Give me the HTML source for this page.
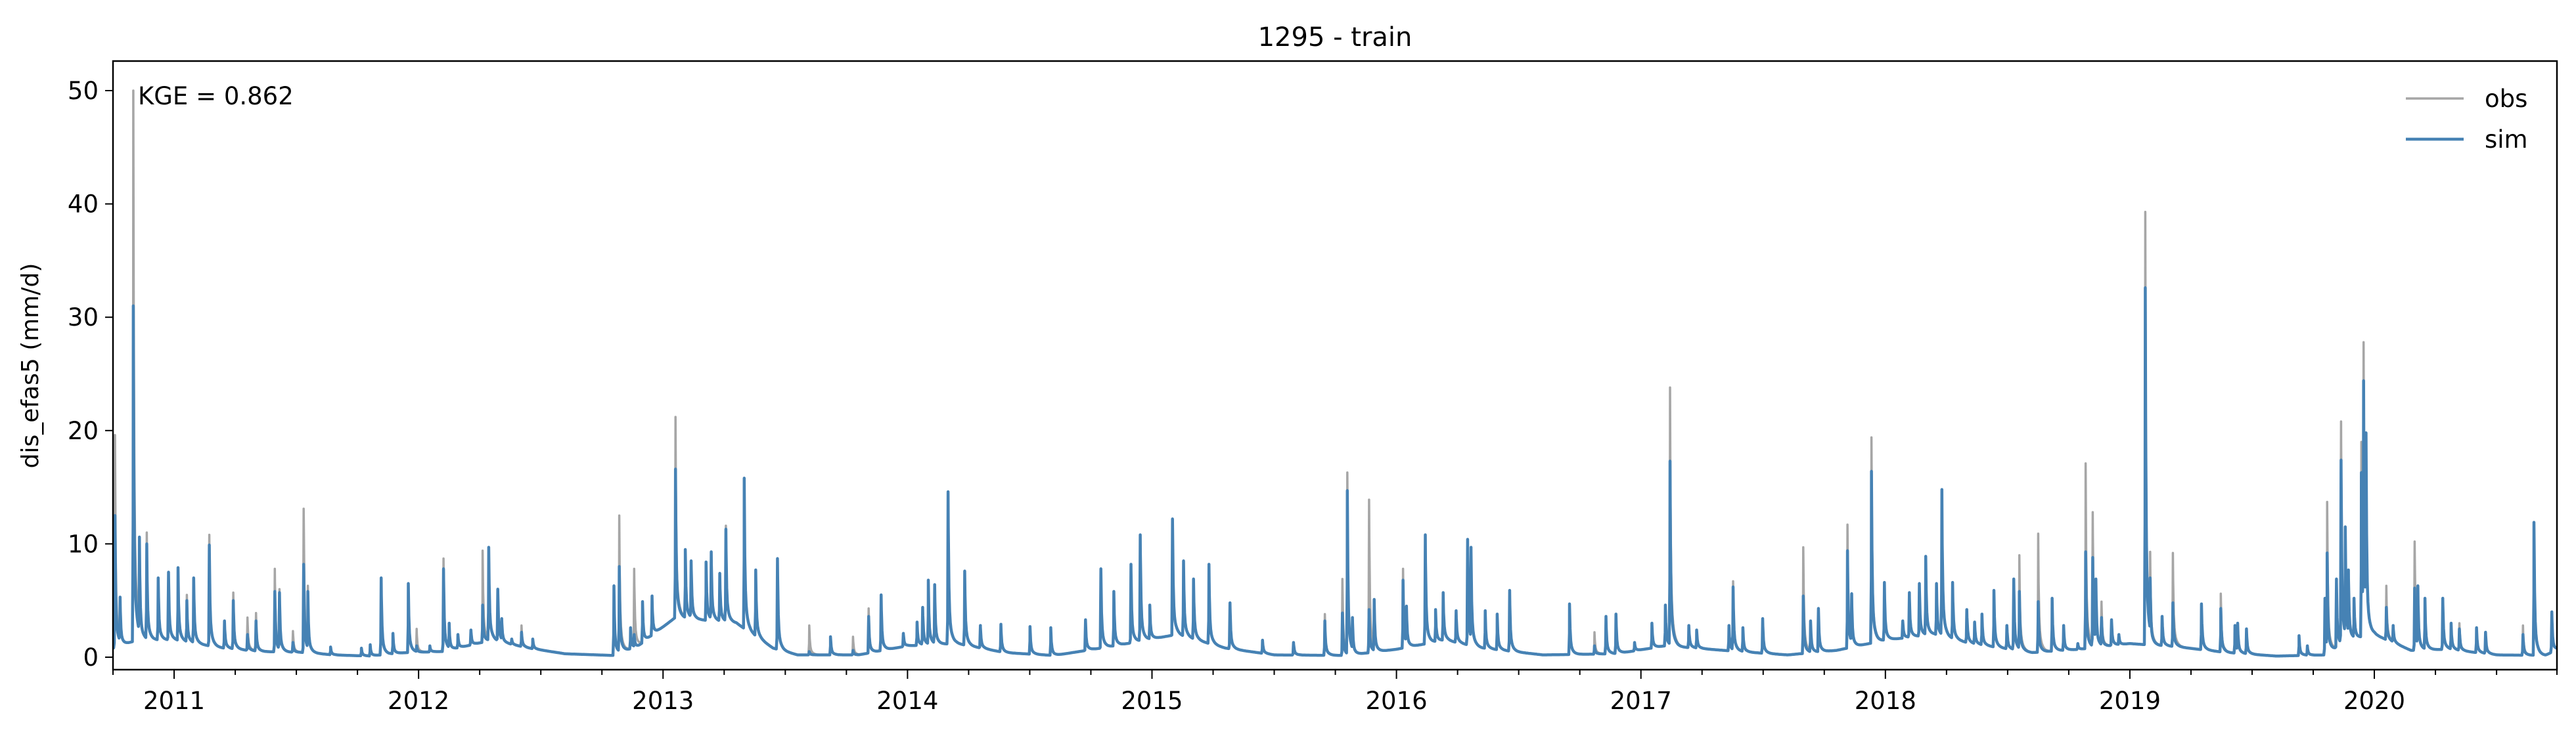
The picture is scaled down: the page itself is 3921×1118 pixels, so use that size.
<!DOCTYPE html>
<html><head><meta charset="utf-8"><title>1295 - train</title>
<style>
html,body{margin:0;padding:0;background:#fff;}
svg{display:block;font-family:"DejaVu Sans","Liberation Sans",sans-serif;}
</style></head>
<body>
<svg id="chart" width="3921" height="1118" viewBox="0 0 3921 1118" xmlns="http://www.w3.org/2000/svg">
<rect x="0" y="0" width="3921" height="1118" fill="#fff"/>
<text x="2032" y="70" font-size="40" text-anchor="middle">1295 - train</text>
<g id="series"></g>
<g id="axes"></g>
<text x="210" y="159" font-size="37">KGE = 0.862</text>
<text transform="translate(58,557) rotate(-90)" font-size="36" text-anchor="middle">dis_efas5 (mm/d)</text>
<g>
<line x1="3662" y1="150" x2="3750" y2="150" stroke="#a6a6a6" stroke-width="3.5"/>
<text x="3782" y="163" font-size="37">obs</text>
<line x1="3662" y1="212" x2="3750" y2="212" stroke="#4682b4" stroke-width="4.5"/>
<text x="3782" y="225" font-size="37">sim</text>
</g>
</svg>
<script>
// ---- data (decimal years, mm/d) ----
const peakYears = [2010.758,2010.779,2010.833,2010.858,2010.888,2010.935,2010.977,2011.016,2011.052,2011.080,2011.144,2011.206,2011.242,2011.300,2011.335,2011.412,2011.431,2011.486,2011.530,2011.547,2011.640,2011.766,2011.802,2011.847,2011.895,2011.958,2011.992,2012.046,2012.102,2012.125,2012.161,2012.214,2012.262,2012.287,2012.324,2012.340,2012.381,2012.421,2012.467,2012.799,2012.821,2012.867,2012.882,2012.916,2012.955,2013.008,2013.051,2013.091,2013.115,2013.176,2013.197,2013.232,2013.257,2013.332,2013.379,2013.468,2013.598,2013.685,2013.777,2013.841,2013.892,2013.983,2014.039,2014.062,2014.085,2014.111,2014.166,2014.234,2014.298,2014.382,2014.501,2014.586,2014.728,2014.791,2014.844,2014.914,2014.952,2014.991,2015.084,2015.129,2015.170,2015.233,2015.319,2015.452,2015.579,2015.707,2015.779,2015.799,2015.820,2015.888,2015.909,2016.027,2016.041,2016.118,2016.160,2016.191,2016.244,2016.291,2016.305,2016.363,2016.412,2016.463,2016.708,2016.810,2016.857,2016.898,2016.974,2017.045,2017.100,2017.119,2017.196,2017.228,2017.360,2017.377,2017.417,2017.498,2017.664,2017.694,2017.726,2017.845,2017.862,2017.943,2017.996,2018.071,2018.098,2018.139,2018.165,2018.209,2018.231,2018.275,2018.333,2018.365,2018.395,2018.444,2018.497,2018.525,2018.548,2018.625,2018.682,2018.729,2018.787,2018.819,2018.848,2018.861,2018.884,2018.925,2018.955,2019.063,2019.083,2019.132,2019.176,2019.293,2019.372,2019.430,2019.441,2019.477,2019.692,2019.726,2019.798,2019.807,2019.845,2019.864,2019.881,2019.894,2019.917,2019.947,2019.956,2019.966,2020.049,2020.077,2020.165,2020.178,2020.207,2020.280,2020.314,2020.348,2020.418,2020.455,2020.608,2020.653,2020.726];
const obsPeaks = [19.6,5.3,50,10.6,11,7,7.5,7.9,5.5,7,10.8,3.2,5.7,3.5,3.9,7.8,6,2.3,13.1,6.3,0.9,0.8,1.1,7,2.1,6.5,2.5,1,8.7,3,2,2.4,9.4,9.7,6,3.4,1.6,2.8,1.6,6.3,12.5,2.6,7.8,4.9,5.4,2.1,21.2,9.5,8.5,8.4,9.3,7.4,11.6,15.8,7.7,8.7,2.8,1.8,1.8,4.3,5.5,2.1,3.1,4.4,6.8,6.4,14.6,7.6,2.8,2.9,2.7,2.6,3.3,7.8,5.8,8.2,10.8,4.6,12.2,8.5,6.9,8.2,4.8,1.5,1.3,3.8,6.9,16.3,3.5,13.9,5.1,7.8,4.5,10.8,4.2,5.7,4.1,10.4,9.7,4.1,3.8,5.9,4.7,2.2,3.6,3.8,1.3,3,4.6,23.8,2.8,2.4,2.8,6.7,2.6,3.4,9.7,3.2,4.3,11.7,5.6,19.4,6.6,3.2,5.7,6.5,8.9,6.5,14.8,6.6,4.2,3.1,3.8,5.9,2.8,6.9,9,10.9,5.2,2.8,1.2,17.1,12.8,6.9,4.9,3.3,2,39.3,9.3,3.6,9.2,4.7,5.6,2.8,3,2.5,1.9,1,5.2,13.7,6.9,20.8,11.5,7.7,5.2,19,27.8,19.8,6.3,2.8,10.2,6.3,5.2,5.2,3,3,2.6,2.2,2.8,11.9,4];
const simPeaks = [12.5,5.3,31,10.6,10,7,7.5,7.9,5,7,9.9,3.2,5,2,3.2,5.8,5.7,1.3,8.2,5.8,0.9,0.8,1.1,7,2.1,6.5,1,1,7.8,3,2,2.4,4.6,9.7,6,3.4,1.6,2.2,1.6,6.3,8,2.6,2,4.9,5.4,2.1,16.6,9.5,8.5,8.4,9.3,7.4,11.3,15.8,7.7,8.7,0.5,1.8,0.6,3.6,5.5,2.1,3.1,4.4,6.8,6.4,14.6,7.6,2.8,2.9,2.7,2.6,3.3,7.8,5.8,8.2,10.8,4.6,12.2,8.5,6.9,8.2,4.8,1.5,1.3,3.2,3.9,14.7,3.5,4.2,5.1,6.8,4.5,10.8,4.2,5.7,4.1,10.4,9.7,4.1,3.8,5.9,4.7,1,3.6,3.8,1.3,3,4.6,17.3,2.8,2.4,2.8,6.2,2.6,3.4,5.4,3.2,4.3,9.4,5.6,16.4,6.6,3.2,5.7,6.5,8.9,6.5,14.8,6.6,4.2,3.1,3.8,5.9,2.8,6.9,5.8,4.9,5.2,2.8,1.2,9.3,8.8,6.9,3.5,3.3,2,32.6,7,3.6,4.8,4.7,4.3,2.8,3,2.5,1.9,1,5.2,9.2,6.9,17.4,11.5,7.7,5.2,16.3,24.4,19.8,4.4,2.8,6.1,6.3,5.2,5.2,3,2.5,2.6,2.2,2,11.9,4];
const baseYears = [2010.75,2010.85,2011.0,2011.2,2011.35,2011.55,2011.65,2011.8,2011.95,2012.1,2012.3,2012.45,2012.6,2012.8,2012.9,2013.05,2013.3,2013.45,2013.55,2013.8,2014.0,2014.2,2014.4,2014.6,2014.85,2015.1,2015.3,2015.5,2015.8,2016.0,2016.2,2016.35,2016.6,2016.9,2017.1,2017.4,2017.6,2017.8,2018.0,2018.2,2018.35,2018.6,2018.8,2019.0,2019.2,2019.4,2019.6,2019.8,2019.9,2020.0,2020.15,2020.3,2020.5,2020.7,2020.75];
const baseValues = [0.8,1.5,1.5,0.8,0.5,0.4,0.2,0.1,0.4,0.5,1.5,0.8,0.3,0.15,1,3.5,3,0.8,0.2,0.2,1,1.2,0.4,0.15,1,2,0.8,0.2,0.15,0.7,1.5,0.8,0.2,0.3,1,0.5,0.2,0.6,1.5,2,1.2,0.4,0.7,1.2,0.9,0.4,0.1,0.2,1.5,2,0.6,0.7,0.2,0.15,0.7];
const yTicks = [0,10,20,30,40,50];
const xTickYears = [2011,2012,2013,2014,2015,2016,2017,2018,2019,2020];

// ---- axes ----
const X0=172, X1=3892, Y0=93, Y1=1020;
const T0=2010.75, T1=2020.747;
const Vzero=1001, pxPerUnit=17.26;
const xScale = t => X0 + (t-T0)/(T1-T0)*(X1-X0);
const yScale = v => Vzero - v*pxPerUnit;
const NS='http://www.w3.org/2000/svg';
function mk(tag, attrs, parent){const e=document.createElementNS(NS,tag);for(const k in attrs)e.setAttribute(k,attrs[k]);parent.appendChild(e);return e;}

function baseAt(t){
  for(let i=0;i<baseYears.length-1;i++){
    if(t>=baseYears[i]&&t<=baseYears[i+1]){const f=(t-baseYears[i])/(baseYears[i+1]-baseYears[i]);return baseValues[i]+f*(baseValues[i+1]-baseValues[i]);}
  }
  return baseValues[baseValues.length-1];
}
function seriesFrom(peaks){
  const day=1/365.25;
  const times=[];
  for(let t=T0;t<=T1+1e-9;t+=day) times.push(t);
  peakYears.forEach(p=>times.push(p));
  times.sort((a,b)=>a-b);
  return times.map(t=>{
    const b=baseAt(t); let v=b;
    for(let i=0;i<peakYears.length;i++){
      const dt=(t-peakYears[i])/day; const P=peaks[i];
      if(P<=b) continue;
      let c=b;
      if(dt>=-1&&dt<0) c=b+(P-b)*(1+dt)*0.5;
      else if(dt>=0&&dt<40) c=b+(P-b)*(0.72*Math.exp(-dt/0.9)+0.28*Math.exp(-dt/4));
      if(c>v) v=c;
    }
    return [t,v];
  });
}
const ser=document.getElementById('series');
const clip=mk('clipPath',{id:'plotclip'},ser);
mk('rect',{x:X0,y:Y0,width:X1-X0,height:Y1-Y0},clip);
function drawLine(peaks,color,w,name){
  const pts=seriesFrom(peaks);
  const d=pts.map((p,i)=>(i?'L':'M')+xScale(p[0]).toFixed(1)+' '+yScale(p[1]).toFixed(1)).join('');
  const p=mk('path',{d:d,fill:'none',stroke:color,'stroke-width':w,'stroke-linejoin':'round','clip-path':'url(#plotclip)'},ser);
  
  
}
drawLine(obsPeaks,'#a6a6a6',3.5,'obs-line');
drawLine(simPeaks,'#4682b4',4.5,'sim-line');

const ax=document.getElementById('axes');
const frame=mk('rect',{x:X0,y:Y0,width:X1-X0,height:Y1-Y0,fill:'none',stroke:'#000','stroke-width':2.5},ax);


yTicks.forEach(v=>{
  const y=yScale(v);
  const tk=mk('line',{x1:X0-12,y1:y,x2:X0,y2:y,stroke:'#000','stroke-width':2},ax);
  
  
  const tl=mk('text',{x:X0-22,y:y+13,'font-size':37,'text-anchor':'end'},ax);
  tl.textContent=v;
  
  
});
for(let y=2010;y<=2020;y++){
  for(let q=0;q<4;q++){
    const t=y+q*0.25; if(t<T0-1e-6||t>T1+0.01) continue;
    const x=Math.min(xScale(t),X1);
    const major=(q===0);
    const tk=mk('line',{x1:x,y1:Y1,x2:x,y2:Y1+(major?14:8),stroke:'#000','stroke-width':2},ax);
    
    
  }
}
xTickYears.forEach(yr=>{
  const tl=mk('text',{x:xScale(yr),y:1080,'font-size':37,'text-anchor':'middle'},ax);
  tl.textContent=yr;
  
  
});
</script>
</body></html>
